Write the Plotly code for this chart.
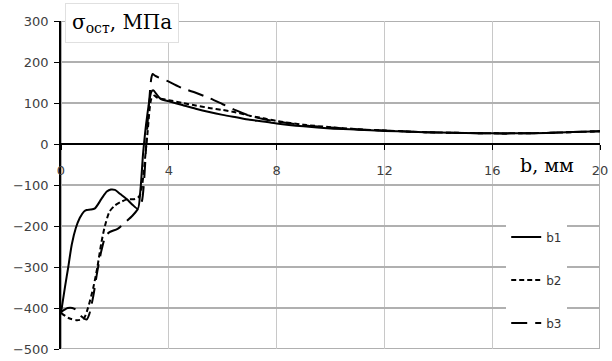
import plotly.graph_objects as go

# Residual stress profiles sigma_ost (MPa) versus distance b (mm)
b1_x = [0.0, 0.15, 0.27, 0.4, 0.55, 0.7, 0.85, 0.95, 1.1, 1.26, 1.5, 1.7, 1.85, 2.0, 2.2,
        2.45, 2.65, 2.85, 2.95, 3.05, 3.2, 3.35, 3.42, 3.55, 3.7, 4.0, 4.5, 5.0, 5.5, 6.0,
        6.5, 7.0, 7.5, 8.0, 9.0, 10.0, 11.0, 12.0, 13.0, 14.0, 15.0, 16.0, 17.0, 18.0, 19.0, 20.0]
b1_y = [-412, -348, -300, -245, -205, -180, -165, -161, -160, -157, -134, -116, -111, -112, -122,
        -135, -148, -158, -110, -20, 70, 127, 131, 121, 110, 104, 95, 86, 78, 71,
        65, 59, 55, 50, 43, 38, 35, 32, 30, 28, 27, 26, 26, 27, 29, 31]

b2_x = [0.0, 0.3, 0.6, 0.85, 1.0, 1.2, 1.35, 1.5, 1.63, 1.8, 2.0, 2.2, 2.45, 2.75, 2.9,
        3.0, 3.2, 3.35, 3.45, 3.6, 4.0, 4.5, 5.0, 5.5, 6.0, 6.5, 7.0, 7.5, 8.0, 9.0,
        10.0, 11.0, 12.0, 13.0, 14.0, 15.0, 16.0, 17.0, 18.0, 19.0, 20.0]
b2_y = [-412, -425, -430, -425, -400, -350, -300, -240, -200, -165, -150, -142, -135, -134, -128,
        -105, 20, 110, 118, 112, 107, 100, 94, 88, 83, 77, 69, 63, 56, 47,
        41, 36, 33, 30, 28, 27, 26, 26, 27, 29, 31]

b3_x = [0.0, 0.25, 0.5, 0.75, 0.95, 1.05, 1.2, 1.35, 1.5, 1.65, 1.8, 2.1, 2.4, 2.65, 2.86,
        3.0, 3.2, 3.35, 3.4, 3.5, 4.0, 4.5, 5.0, 5.5, 6.0, 6.5, 7.0, 7.5, 8.0, 9.0,
        10.0, 11.0, 12.0, 13.0, 14.0, 15.0, 16.0, 17.0, 18.0, 19.0, 20.0]
b3_y = [-410, -400, -402, -420, -428, -415, -370, -310, -260, -225, -215, -207, -190, -175, -158,
        -140, 40, 160, 171, 166, 152, 136, 125, 112, 97, 82, 69, 61, 55, 46,
        40, 36, 33, 30, 28, 27, 26, 26, 27, 29, 31]

x_range = [0, 20]
x_step = 4
y_range = [-500, 300]
y_step = 100

series = [
    ("b1", b1_x, b1_y, "solid"),
    ("b2", b2_x, b2_y, "5px,3px"),
    ("b3", b3_x, b3_y, "16px,8px"),
]

fig = go.Figure()
for name, xs, ys, dash in series:
    fig.add_trace(go.Scatter(
        x=xs, y=ys, name=name, mode="lines", legendgroup=name,
        line=dict(color="black", width=2, dash=dash, shape="spline", smoothing=0.7),
    ))

tick_font = dict(family="DejaVu Sans", size=13, color="#404040")
serif = "DejaVu Serif"
grid_v = "#c8c8c8"
grid_h = "#b0b0b0"

# frame of the plot area (outer grid lines at the range limits)
fig.add_shape(type="rect", xref="x", yref="y",
              x0=x_range[0], x1=x_range[1], y0=y_range[0], y1=y_range[1],
              line=dict(color=grid_h, width=2), layer="below")

# x axis crosses the y axis at zero
x_cross = (0 - y_range[0]) / (y_range[1] - y_range[0])

fig.update_layout(
    width=612, height=361,
    margin=dict(l=61, r=12, t=21, b=4),
    paper_bgcolor="white", plot_bgcolor="white",
    showlegend=True,
    legend=dict(
        x=0.826, y=0.386, xanchor="left", yanchor="top",
        bgcolor="white", borderwidth=0,
        font=dict(family="DejaVu Sans", size=12, color="#333333"),
        tracegroupgap=24, traceorder="grouped", itemwidth=30,
    ),
    xaxis=dict(
        range=x_range, tickmode="linear", tick0=0, dtick=x_step,
        showgrid=True, gridcolor=grid_v, gridwidth=1,
        anchor="free", position=x_cross,
        showline=True, linecolor="black", linewidth=1.5,
        ticks="outside", ticklen=5, tickcolor="black", tickwidth=1,
        tickfont=tick_font, zeroline=False, ticklabeloverflow="allow",
        ticklabelstandoff=10,
    ),
    yaxis=dict(
        range=y_range, tickmode="linear", tick0=0, dtick=y_step,
        showgrid=True, gridcolor=grid_h, gridwidth=2,
        showline=True, linecolor="black", linewidth=1.5,
        ticks="outside", ticklen=5, tickcolor="black", tickwidth=1,
        tickfont=tick_font, zeroline=False, ticklabeloverflow="allow",
        ticklabelstandoff=3,
    ),
    annotations=[
        dict(
            text="σ<sub>ост</sub>, МПа", xref="paper", yref="paper",
            x=0.007, y=1.054, xanchor="left", yanchor="top", showarrow=False,
            font=dict(family=serif, size=20, color="black"),
            bgcolor="white", bordercolor="#e0e0e0", borderwidth=1, borderpad=6,
        ),
        dict(
            text="b, мм", xref="x", yref="y", x=18.05, y=-52,
            xanchor="center", yanchor="middle", showarrow=False,
            font=dict(family=serif, size=19, color="black"),
        ),
    ],
)

fig.write_html("out.html")
